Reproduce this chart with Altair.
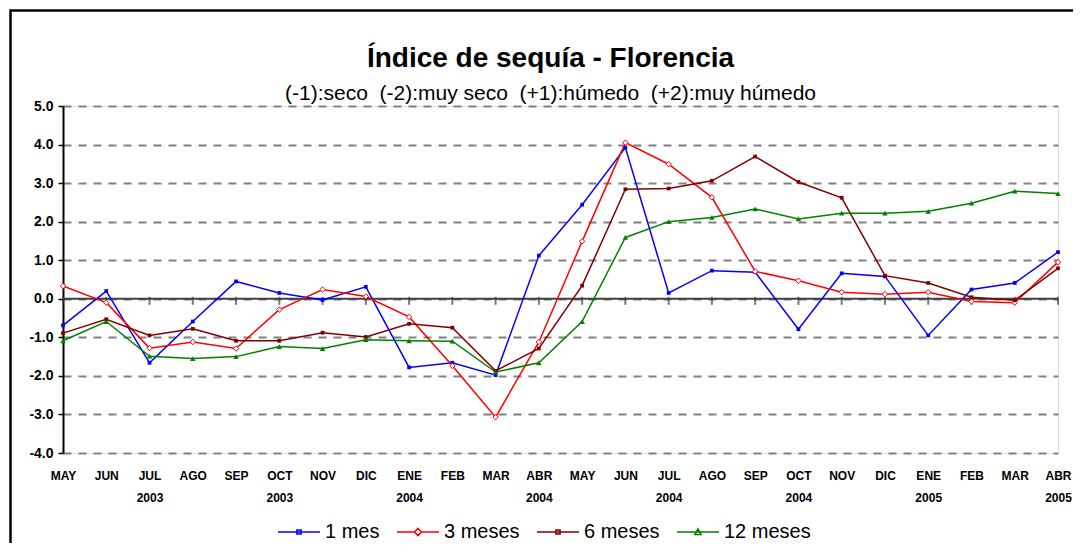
import altair as alt
import pandas as pd

meses = ["MAY", "JUN", "JUL", "AGO", "SEP", "OCT", "NOV", "DIC", "ENE", "FEB", "MAR", "ABR",
         "MAY", "JUN", "JUL", "AGO", "SEP", "OCT", "NOV", "DIC", "ENE", "FEB", "MAR", "ABR"]
anios = ["", "", "2003", "", "", "2003", "", "", "2004", "", "", "2004",
         "", "", "2004", "", "", "2004", "", "", "2005", "", "", "2005"]
series = ["1 mes", "3 meses", "6 meses", "12 meses"]
colores = ["#0000FF", "#FF0000", "#800000", "#008000"]

s1 = [-0.69, 0.20, -1.66, -0.59, 0.45, 0.15, -0.03, 0.31, -1.78, -1.66, -1.98, 1.12,
      2.44, 3.92, 0.15, 0.73, 0.69, -0.79, 0.66, 0.58, -0.95, 0.24, 0.41, 1.21]
s3 = [0.33, -0.10, -1.28, -1.12, -1.29, -0.28, 0.24, 0.06, -0.47, -1.74, -3.07, -1.12,
      1.49, 4.05, 3.49, 2.63, 0.71, 0.47, 0.17, 0.12, 0.17, -0.07, -0.10, 0.95]
s6 = [-0.89, -0.53, -0.95, -0.78, -1.09, -1.09, -0.88, -0.99, -0.65, -0.75, -1.87, -1.29,
      0.34, 2.84, 2.86, 3.06, 3.69, 3.03, 2.62, 0.60, 0.41, 0.04, -0.04, 0.79]
s12 = [-1.09, -0.59, -1.49, -1.55, -1.50, -1.24, -1.29, -1.06, -1.09, -1.10, -1.90, -1.66,
       -0.59, 1.59, 2.00, 2.11, 2.33, 2.07, 2.22, 2.22, 2.27, 2.48, 2.79, 2.73]

valores = [s1, s3, s6, s12]
rows = []
for nombre, vals in zip(series, valores):
    for i, v in enumerate(vals):
        rows.append({"idx": i, "mes": meses[i], "serie": nombre, "valor": v})
df = pd.DataFrame(rows)
idx_df = pd.DataFrame({"idx": list(range(len(meses)))})
one = pd.DataFrame({"k": [0]})

FONT = "Liberation Sans"
label_expr = "[" + ",".join("['%s','%s']" % (m, a) for m, a in zip(meses, anios)) + "][datum.value]"

x_scale = alt.Scale(domain=[0, len(meses) - 1], nice=False, zero=False)
x_axis = alt.Axis(values=list(range(len(meses))), labelExpr=label_expr, labelFlush=False,
                  labelOverlap=False, ticks=False, tickSize=0, domain=False, grid=False,
                  labelPadding=17, labelFont=FONT, labelFontSize=12, labelFontWeight="bold",
                  labelColor="black", labelLineHeight=22, title=None)
y_scale = alt.Scale(domain=[-4, 5], nice=False, zero=False)
y_axis = alt.Axis(values=list(range(-4, 6)),
                  labelExpr="(datum.value<0?'-':'')+format(abs(datum.value),'.1f')",
                  labelOverlap=False, labelFlush=False,
                  labelFont=FONT, labelFontSize=14, labelFontWeight="bold", labelColor="black",
                  domainColor="black", domainWidth=2, tickColor="black", tickSize=5,
                  tickWidth=1.5, labelPadding=5, grid=True, gridColor="#808080",
                  gridDash=[8, 7], gridWidth=2, title=None)

x_enc = alt.X("idx:Q", scale=x_scale, axis=x_axis)
y_enc = alt.Y("valor:Q", scale=y_scale, axis=y_axis)
y_zero = alt.YDatum(0, scale=y_scale, axis=y_axis)

legend_paths = [
    "M-1,0H1M-0.1,-0.1H0.1V0.1H-0.1Z",
    "M-1,0H-0.17M0.17,0H1M0,-0.17L0.17,0L0,0.17L-0.17,0Z",
    "M-1,0H1M-0.1,-0.1H0.1V0.1H-0.1Z",
    "M-1,0H1M0,-0.15L0.15,0.12L-0.15,0.12Z",
]
leg = dict(title=None, orient="none", legendX=214, legendY=404, direction="horizontal",
           columns=4, labelFont=FONT, labelFontSize=20, labelColor="black", symbolSize=1764,
           symbolStrokeWidth=1.5, labelOffset=4, columnPadding=14)
color_enc = alt.Color("serie:N", scale=alt.Scale(domain=series, range=colores),
                      legend=alt.Legend(**leg))

border = alt.Chart(one).mark_rect(filled=False, color="black", strokeWidth=2.5).encode(
    x=alt.value(-52.5), x2=alt.value(1300), y=alt.value(-95.5), y2=alt.value(900)
)

zero = alt.Chart(one).mark_rule(color="#404040", strokeWidth=2).encode(y=y_zero)

ticks = alt.Chart(idx_df).mark_tick(color="#404040", thickness=2, size=8, orient="vertical",
                                    yOffset=2).encode(x=x_enc, y=y_zero)

lines = alt.Chart(df).mark_line(strokeWidth=1.5).encode(
    x=x_enc, y=y_enc, color=color_enc, detail="serie:N",
)

marker_specs = [
    dict(shape="square", size=14, filled=True, color=colores[0]),
    dict(shape="diamond", size=30, filled=True, fill="white", stroke=colores[1], strokeWidth=1),
    dict(shape="square", size=14, filled=True, color=colores[2]),
    dict(shape="triangle-up", size=30, filled=True, color=colores[3]),
]
markers = []
for nombre, spec in zip(series, marker_specs):
    markers.append(
        alt.Chart(df).transform_filter(alt.datum.serie == nombre)
        .mark_point(opacity=1, **spec).encode(x=x_enc, y=y_enc)
    )

legend_layer = alt.Chart(df).transform_filter("false").mark_point(
    filled=False, opacity=1, strokeWidth=1.5, size=1764
).encode(
    x=x_enc, y=y_enc,
    color=color_enc,
    shape=alt.Shape("serie:N", scale=alt.Scale(domain=series, range=legend_paths),
                    legend=alt.Legend(**leg)),
)

chart = alt.layer(border, zero, ticks, lines, *markers, legend_layer).properties(
    width=995, height=347,
    autosize=alt.AutoSizeParams(type="none"),
    padding={"left": 55, "top": 98, "right": 15, "bottom": 90},
    title=alt.TitleParams(
        text="Índice de sequía - Florencia",
        subtitle="(-1):seco\u00a0 (-2):muy seco\u00a0 (+1):húmedo\u00a0 (+2):muy húmedo",
        font=FONT, fontSize=28, fontWeight="bold", color="black",
        subtitleFont=FONT, subtitleFontSize=21, subtitleColor="black",
        anchor="middle", frame="group", offset=-95, dx=-10, subtitlePadding=10,
    ),
).configure_view(stroke="#808080", strokeWidth=2).configure(background="white")

chart.save("out.html", embed_options={"renderer": "svg", "actions": False})
